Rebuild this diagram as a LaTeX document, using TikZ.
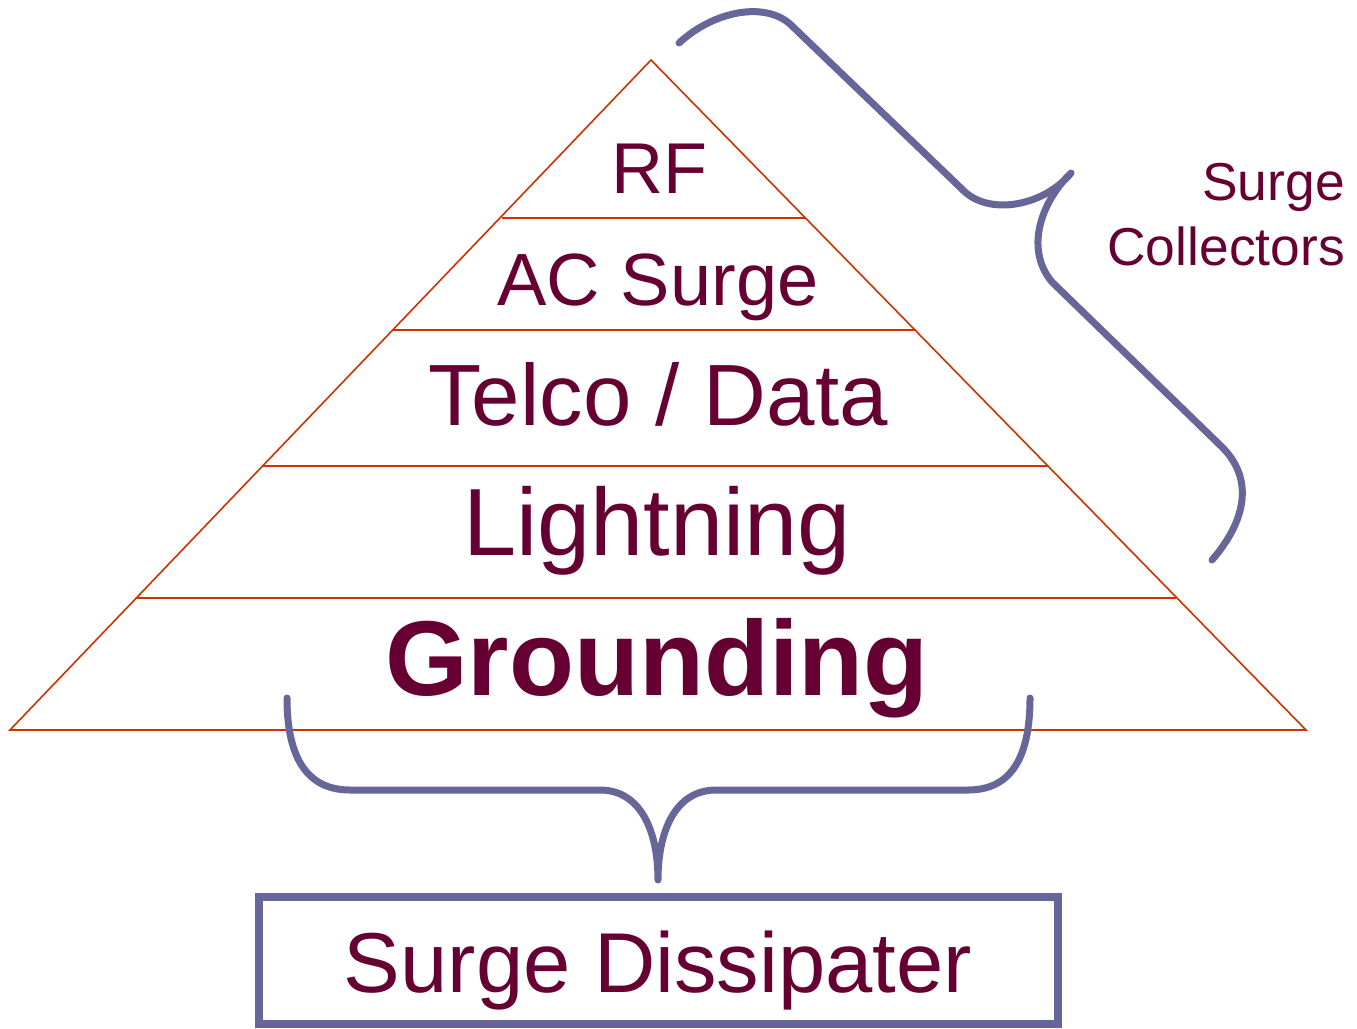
\documentclass[tikz,border=0pt]{standalone}
\usepackage{fontspec}
\setmainfont{Liberation Sans}
\definecolor{edgeorange}{HTML}{CC3300}
\definecolor{bracepurple}{HTML}{666699}
\definecolor{labelred}{HTML}{660033}
\tikzset{
  tier/.style={draw=edgeorange, line width=1.6pt},
  brace/.style={draw=bracepurple, line width=7pt, line cap=round, line join=round},
  label/.style={text=labelred, anchor=base, inner sep=0pt},
}
\begin{document}
\begin{tikzpicture}[x=1pt,y=-1pt]
\useasboundingbox (0,0) rectangle (1357,1028);

% pyramid outline and tier dividers
\coordinate (apex) at (651,60);
\coordinate (bl) at (10,730);
\coordinate (br) at (1306,730);
\draw[tier] (bl) -- (apex) -- (br) -- cycle;
\draw[tier] (502,218) -- (806,218);
\draw[tier] (392,330) -- (916,330);
\draw[tier] (262,466) -- (1048,466);
\draw[tier] (136,598) -- (1176,598);

% tier labels
\node[label, font=\fontsize{72}{76}\selectfont] (rf) at (659,193) {RF};
\node[label, font=\fontsize{74}{78}\selectfont] (ac) at (658,305) {AC Surge};
\node[label, font=\fontsize{87}{92}\selectfont] (telco) at (658,425) {Telco / Data};
\node[label, font=\fontsize{95.5}{100}\selectfont] (light) at (657,555) {Lightning};
\node[label, font=\bfseries\fontsize{106.4}{110}\selectfont] (ground) at (657,695) {Grounding};

% brace over the upper tiers
\draw[brace] (679,43) .. controls (715,10) and (765,2) .. (790,24)
  -- (965,192) .. controls (992,216) and (1045,205) .. (1071,173)
  .. controls (1040,203) and (1025,250) .. (1052,282)
  -- (1222,447) .. controls (1255,480) and (1245,522) .. (1212,560);

\node[text=labelred, anchor=base east, inner sep=0pt, align=right,
      font=\fontsize{53.4}{65}\selectfont] (collect) at (1345,265) {Surge\\Collectors};

% brace under the grounding tier
\coordinate (tip) at (658,880);
\draw[brace] (287,698) .. controls (287,762) and (310,790) .. (350,790)
  -- (600,790) .. controls (640,790) and (658,830) .. (tip)
  .. controls (658,830) and (676,790) .. (716,790)
  -- (968,790) .. controls (1008,790) and (1030,762) .. (1030,698);

% dissipater box
\draw[draw=bracepurple, line width=8pt] (259,897) rectangle (1058,1024);
\node[label, font=\fontsize{85}{90}\selectfont] (diss) at (658,992) {Surge Dissipater};
\end{tikzpicture}
\end{document}
